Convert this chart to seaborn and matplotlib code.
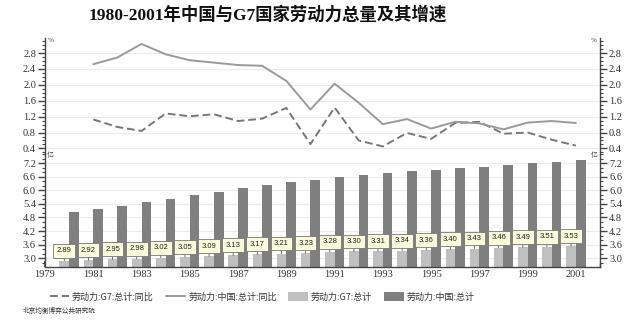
import numpy as np
import pandas as pd
import matplotlib
matplotlib.use('Agg')
import matplotlib.pyplot as plt
import seaborn as sns
from matplotlib.ticker import MultipleLocator, FixedLocator
from matplotlib.lines import Line2D
from matplotlib.patches import Patch

# ---------------- data ----------------
years = list(range(1980, 2002))
g7_total = [2.89, 2.92, 2.95, 2.98, 3.02, 3.05, 3.09, 3.13, 3.17, 3.21, 3.23,
            3.28, 3.30, 3.31, 3.34, 3.36, 3.40, 3.43, 3.46, 3.49, 3.51, 3.53]
china_total = [5.05, 5.16, 5.31, 5.47, 5.61, 5.77, 5.92, 6.08, 6.23, 6.36, 6.46,
               6.59, 6.68, 6.74, 6.83, 6.89, 6.98, 7.04, 7.12, 7.19, 7.24, 7.33]
growth_years = list(range(1981, 2002))
china_growth = [2.52, 2.69, 3.03, 2.77, 2.62, 2.56, 2.50, 2.48, 2.10, 1.38, 2.03,
                1.55, 1.01, 1.14, 0.90, 1.07, 1.03, 0.88, 1.05, 1.09, 1.04]
g7_growth = [1.13, 0.94, 0.84, 1.28, 1.21, 1.26, 1.09, 1.15, 1.42, 0.51, 1.43,
             0.60, 0.45, 0.79, 0.64, 1.04, 1.07, 0.77, 0.80, 0.62, 0.47]

s_g7_g = '劳动力:G7:总计:同比'
s_cn_g = '劳动力:中国:总计:同比'
s_g7_t = '劳动力:G7:总计'
s_cn_t = '劳动力:中国:总计'
title = '1980-2001年中国与G7国家劳动力总量及其增速'
source = '北京均衡博弈公共研究院'

c_g7_bar = '#c0c0c0'
c_cn_bar = '#7f7f7f'
c_g7_line = '#777777'
c_cn_line = '#9a9a9a'
c_axis = '#444444'

bars = pd.DataFrame({
    'year': years * 2,
    'value': g7_total + china_total,
    'series': [s_g7_t] * len(years) + [s_cn_t] * len(years),
})
lines = pd.DataFrame({
    'year': growth_years * 2,
    'value': g7_growth + china_growth,
    'series': [s_g7_g] * len(growth_years) + [s_cn_g] * len(growth_years),
})

sns.set_theme(style='white')
plt.rcParams['font.family'] = ['Liberation Serif', 'Noto Sans CJK SC', 'DejaVu Sans']

fig = plt.figure(figsize=(6.29, 3.23), dpi=100)
ax1 = fig.add_axes([45 / 629, 1 - 154 / 323, 555 / 629, 116 / 323])
ax2 = fig.add_axes([45 / 629, 1 - 267 / 323, 555 / 629, 113 / 323])

# ---------------- top: growth lines ----------------
sns.lineplot(data=lines, x='year', y='value', hue='series', style='series',
             palette={s_g7_g: c_g7_line, s_cn_g: c_cn_line},
             dashes={s_g7_g: (4, 2), s_cn_g: ''}, linewidth=1.4,
             legend=False, ax=ax1)

# ---------------- bottom: bars ----------------
sns.barplot(data=bars, x='year', y='value', hue='series', native_scale=True,
            palette={s_g7_t: c_g7_bar, s_cn_t: c_cn_bar}, width=0.8,
            dodge=True, errorbar=None, saturation=1, legend=False, ax=ax2,
            linewidth=0)

for x, v in zip(years, g7_total):
    ax2.annotate(f'{v:.2f}', xy=(x - 0.2, v), xytext=(0, 10),
                 textcoords='offset pixels', ha='center', va='center',
                 fontsize=5.5, family=['Liberation Sans'], color='#222222',
                 bbox=dict(boxstyle='square,pad=0.45', fc='#fbfbdc', ec='#777777', lw=0.6),
                 arrowprops=dict(arrowstyle='-', color='#555555', lw=0.6,
                                 shrinkA=0, shrinkB=0),
                 zorder=5)

# ---------------- axes styling ----------------
for ax in (ax1, ax2):
    ax.set_xlim(1979, 2002)
    ax.set_xlabel('')
    ax.set_ylabel('')
    ax.spines['top'].set_visible(False)
    for sp in ('left', 'right', 'bottom'):
        ax.spines[sp].set_color(c_axis)
        ax.spines[sp].set_linewidth(1.0)
    ax.grid(axis='y', color='#ececec', lw=0.8)
    ax.grid(axis='x', visible=False)
    ax.set_axisbelow(True)
    ax.tick_params(axis='y', which='both', left=True, right=True,
                   labelleft=True, labelright=True, direction='out',
                   colors=c_axis, labelcolor='#333333', labelsize=7.5, pad=1.5)
    ax.tick_params(axis='y', which='major', length=5, width=1.0)
    ax.tick_params(axis='y', which='minor', length=2.5, width=0.8)
    ax.patch.set_alpha(0)

ax1.spines['bottom'].set_visible(False)
ax1.set_ylim(0.26, 3.18)
ax1.set_yticks(np.round(np.arange(0.4, 2.81, 0.4), 1))
ax1.set_yticklabels([f'{t:.1f}' for t in np.arange(0.4, 2.81, 0.4)])
ax1.yaxis.set_minor_locator(MultipleLocator(0.1))
ax1.tick_params(axis='x', which='both', bottom=False, labelbottom=False)

ax2.set_ylim(2.615, 7.6)
yt2 = np.round(np.arange(3.0, 7.21, 0.6), 1)
ax2.set_yticks(yt2)
ax2.set_yticklabels([f'{t:.1f}' for t in yt2])
ax2.yaxis.set_minor_locator(MultipleLocator(0.2))
xt = list(range(1979, 2002, 2))
ax2.set_xticks(xt)
ax2.set_xticklabels([str(t) for t in xt])
ax2.xaxis.set_minor_locator(FixedLocator(list(range(1980, 2003, 2))))
ax2.tick_params(axis='x', which='both', bottom=True, direction='in',
                colors=c_axis, labelcolor='#333333', labelsize=7.5, pad=2)
ax2.tick_params(axis='x', which='major', length=4)
ax2.tick_params(axis='x', which='minor', length=3)

# unit labels
fig.text(48 / 629, 1 - 40 / 323, '%', fontsize=5, color='#444444', va='center', ha='left')
fig.text(597 / 629, 1 - 40 / 323, '%', fontsize=5, color='#444444', va='center', ha='right')
fig.text(47 / 629, 1 - 155 / 323, '亿', fontsize=5, color='#444444', va='center', ha='left',
         family=['Noto Sans CJK SC'])
fig.text(598 / 629, 1 - 155 / 323, '亿', fontsize=5, color='#444444', va='center', ha='right',
         family=['Noto Sans CJK SC'])

# title
fig.text(268 / 629, 1 - 15 / 323, title, ha='center', va='center', fontsize=12.5,
         fontweight='bold', color='#111111',
         family=['Liberation Serif', 'Noto Sans CJK SC'])

# legend
handles = [
    Line2D([], [], color=c_g7_line, lw=1.4, ls=(0, (4, 2))),
    Line2D([], [], color=c_cn_line, lw=1.4),
    Patch(fc=c_g7_bar, ec='none'),
    Patch(fc=c_cn_bar, ec='none'),
]
fig.legend(handles, [s_g7_g, s_cn_g, s_g7_t, s_cn_t], loc='center',
           bbox_to_anchor=(262 / 629, 1 - 297 / 323), ncol=4, frameon=False,
           prop={'family': ['Noto Sans CJK SC'], 'size': 6.5},
           handlelength=2.2, handleheight=1.2, handletextpad=0.3,
           columnspacing=1.3, labelcolor='#333333')

# source
fig.text(23 / 629, 1 - 311 / 323, source, fontsize=4.8, color='#333333',
         va='center', ha='left', family=['Noto Sans CJK SC'])

fig.savefig('out.png', dpi=100)
